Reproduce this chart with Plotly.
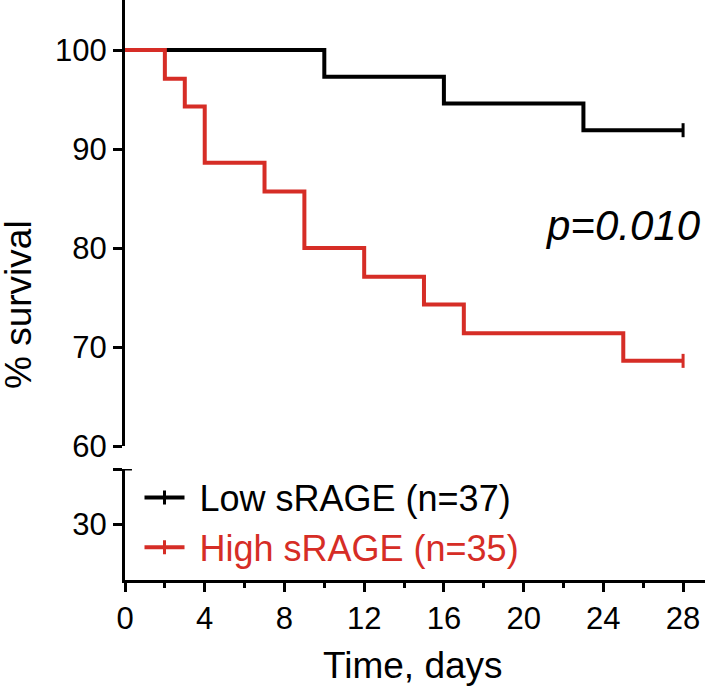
import plotly.graph_objects as go

# Data (Kaplan-Meier step curves)
low_days = [0, 10, 16, 23, 28]
low_surv = [100, 97.3, 94.6, 91.9, 91.9]
high_days = [0, 2, 3, 4, 7, 9, 12, 15, 17, 25, 28]
high_surv = [100, 97.1, 94.3, 88.6, 85.7, 80.0, 77.1, 74.3, 71.4, 68.6, 68.6]
low_name = "Low sRAGE (n=37)"
high_name = "High sRAGE (n=35)"
x_ticks = [0, 4, 8, 12, 16, 20, 24, 28]
y_ticks_top = [60, 70, 80, 90, 100]
p_text = "p=0.010"

BLACK = "#000000"
RED = "#D62D26"
FONT = "Liberation Sans, Arial, Helvetica, sans-serif"

fig = go.Figure()

for days, surv, name, col in [(low_days, low_surv, low_name, BLACK),
                              (high_days, high_surv, high_name, RED)]:
    fig.add_trace(go.Scatter(x=days, y=surv, mode="lines", line=dict(color=col, width=4, shape="hv"),
                             showlegend=False, xaxis="x", yaxis="y", cliponaxis=False))
    # censor mark at end; also used as legend entry (line + tick)
    fig.add_trace(go.Scatter(x=[days[-1]], y=[surv[-1]], mode="lines+markers",
                             line=dict(color=col, width=4),
                             marker=dict(symbol="line-ns", size=10, line=dict(color=col, width=3)),
                             name=f"<span style='color:{col}'>\u00a0{name}</span>",
                             xaxis="x", yaxis="y", cliponaxis=False))

H = 580.0
fig.update_layout(
    width=709, height=692,
    margin=dict(l=125, r=4, t=0, b=692 - 580),
    plot_bgcolor="white", paper_bgcolor="white",
    font=dict(family=FONT, color="black", size=31),
    xaxis=dict(domain=[0, 1], range=[0, 29.1], anchor="y2", showline=True, linewidth=3, linecolor="black",
               ticks="outside", tickvals=x_ticks, ticklen=9, tickwidth=3, tickcolor="black",
               minor=dict(dtick=2, tick0=0, ticks="outside", ticklen=5, tickwidth=3, tickcolor="black"),
               showgrid=False, zeroline=False, tickfont=dict(size=31)),
    yaxis=dict(domain=[(H - 446) / H, 1], range=[60, 105.05], anchor="x", showline=True, linewidth=3,
               linecolor="black", ticks="outside", tickvals=y_ticks_top, ticklen=9, tickwidth=3,
               tickcolor="black", showgrid=False, zeroline=False, tickfont=dict(size=31)),
    yaxis2=dict(domain=[0, (H - 469) / H], range=[0, 60], anchor="x", showline=True, linewidth=3,
                linecolor="black", ticks="outside", tickvals=[30, 60], ticktext=["30", ""], ticklen=9,
                tickwidth=3, tickcolor="black", showgrid=False, zeroline=False, tickfont=dict(size=31)),
    legend=dict(x=0.025, y=0.194, xanchor="left", yanchor="top", bgcolor="rgba(0,0,0,0)",
                font=dict(size=36, family=FONT), tracegroupgap=0, itemwidth=40),
    showlegend=True,
)

fig.add_shape(type="line", xref="x domain", yref="y2", x0=0, x1=0.012, y0=60, y1=60,
              line=dict(color="black", width=3))

fig.add_annotation(text="% survival", xref="paper", yref="paper", x=(18 - 125) / H, y=(H - 305) / H,
                   textangle=-90, showarrow=False, font=dict(size=37, family=FONT),
                   xanchor="center", yanchor="middle")
fig.add_annotation(text="Time, days", xref="paper", yref="paper", x=(413 - 125) / H, y=(H - 665) / H,
                   showarrow=False, font=dict(size=37, family=FONT), xanchor="center", yanchor="middle")
fig.add_annotation(text=f"<i>{p_text}</i>", xref="x", yref="y", x=29.0, y=82.3, showarrow=False,
                   font=dict(size=42, family=FONT), xanchor="right", yanchor="middle")

fig.write_html("out.html", post_script="document.body.style.margin='0';",
               config={"displayModeBar": False})
